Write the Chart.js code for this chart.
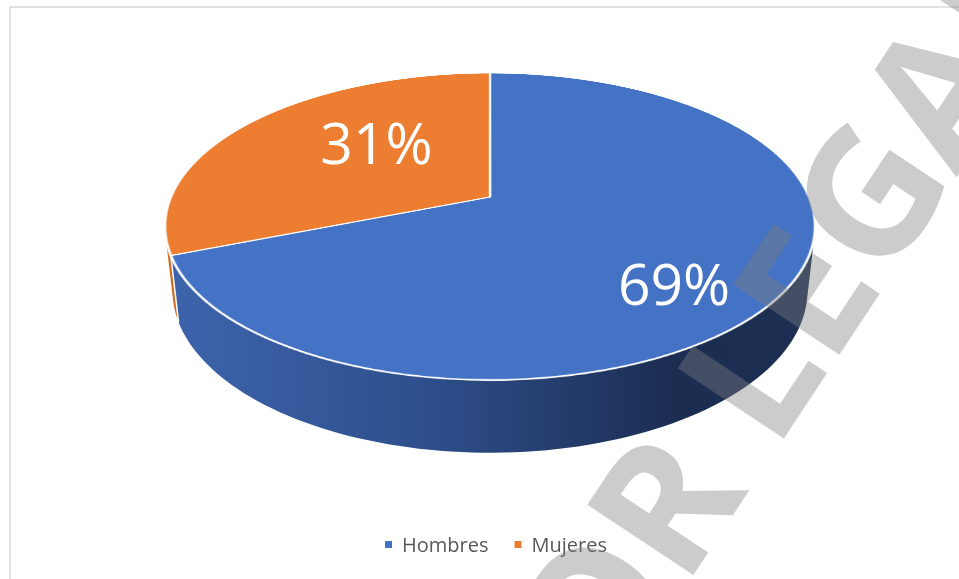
<!DOCTYPE html>
<html>
<head>
<meta charset="utf-8">
<script src="https://cdn.jsdelivr.net/npm/chart.js@4.4.1/dist/chart.umd.min.js"></script>
<style>
html,body{margin:0;padding:0;background:#fff;}
#stage{position:relative;width:959px;height:579px;overflow:hidden;background:#fff;}
#stage canvas.flat{position:absolute;left:0;top:0;}
#topFace{position:absolute;left:0;top:0;width:660px;height:660px;}
</style>
</head>
<body>
<div id="stage">
  <canvas id="walls" class="flat" width="959" height="579"></canvas>
  <div id="topFace"><canvas id="pie" width="660" height="660"></canvas></div>
  <canvas id="marks" class="flat" width="959" height="579"></canvas>
</div>
<script>
// ── data ──────────────────────────────────────────────
const categories=['Hombres','Mujeres'];
const shares=[69,31];

// ── 3D view (Excel style tilted pie with perspective) ──
const VIEW={cx:490,cy:197,r:319,tilt:62.4,dist:1471,depth:73};
const COS=Math.cos(VIEW.tilt*Math.PI/180), SIN=Math.sin(VIEW.tilt*Math.PI/180);
const WALL=[['#3d64ac','#2e4f8c','#1c2d52','#1d2e53'],['#d06a25','#a85419','#6e3510','#6e3510']];
const LABEL_TURN=11.5*Math.PI/180;

// same maths as the css perspective()+rotateX() on the top face
function project(X,Y,Z){
  const yr=Y*COS-Z*SIN, zr=Y*SIN+Z*COS;
  const s=VIEW.dist/(VIEW.dist-zr);
  return {x:VIEW.cx+X*s,y:VIEW.cy+yr*s};
}

function placeTopFace(chart){
  const arc=chart.getDatasetMeta(0).data[0];
  const k=VIEW.r/arc.outerRadius;
  const box=document.getElementById('topFace');
  box.style.left=(VIEW.cx-arc.x)+'px';
  box.style.top=(VIEW.cy-arc.y)+'px';
  box.style.transformOrigin=arc.x+'px '+arc.y+'px';
  box.style.transform=`perspective(${VIEW.dist}px) rotateX(${VIEW.tilt}deg) scale(${k})`;
}

function drawWalls(chart){
  const ctx=document.getElementById('walls').getContext('2d');
  ctx.clearRect(0,0,959,579);
  // chart frame
  ctx.strokeStyle='#d9d9d9';ctx.lineWidth=1.5;
  ctx.beginPath();ctx.moveTo(10,579);ctx.lineTo(10,7);ctx.lineTo(959,7);ctx.stroke();

  const R=VIEW.r;
  const tMin=Math.asin(R/(VIEW.dist*SIN)), tMax=Math.PI-tMin;
  const xl=project(R*Math.cos(tMax),R*Math.sin(tMax),0).x;
  const xr=project(R*Math.cos(tMin),R*Math.sin(tMin),0).x;
  const arcs=chart.getDatasetMeta(0).data;
  arcs.forEach((arc,i)=>{
    const a=Math.max(arc.startAngle,tMin), b=Math.min(arc.endAngle,tMax);
    if(b<=a) return;
    const g=ctx.createLinearGradient(xl,0,xr,0);
    const st=WALL[i%WALL.length];
    g.addColorStop(0,st[0]);g.addColorStop(0.4,st[1]);g.addColorStop(0.78,st[2]);g.addColorStop(1,st[3]);
    ctx.fillStyle=g;
    ctx.beginPath();
    const n=90;
    for(let j=0;j<=n;j++){
      const t=a+(b-a)*j/n, p=project(R*Math.cos(t),R*Math.sin(t),0);
      j?ctx.lineTo(p.x,p.y):ctx.moveTo(p.x,p.y);
    }
    for(let j=n;j>=0;j--){
      const t=a+(b-a)*j/n, p=project(R*Math.cos(t),R*Math.sin(t),-VIEW.depth);
      ctx.lineTo(p.x,p.y);
    }
    ctx.closePath();ctx.fill();
  });
  // white seam where the slices meet on the wall
  arcs.forEach(arc=>{
    const t=arc.endAngle;
    if(t<=tMin||t>=tMax) return;
    const p1=project(R*Math.cos(t),R*Math.sin(t),0), p2=project(R*Math.cos(t),R*Math.sin(t),-VIEW.depth);
    ctx.strokeStyle='#ffffff';ctx.lineWidth=1.5;
    ctx.beginPath();ctx.moveTo(p1.x,p1.y);ctx.lineTo(p2.x,p2.y);ctx.stroke();
  });
}

function drawMarks(chart){
  const ctx=document.getElementById('marks').getContext('2d');
  ctx.clearRect(0,0,959,579);
  const meta=chart.getDatasetMeta(0);
  const total=shares.reduce((a,b)=>a+b,0);

  // percentage labels
  ctx.fillStyle='#ffffff';ctx.font="57px 'Open Sans'";ctx.textAlign='center';ctx.textBaseline='alphabetic';
  meta.data.forEach((arc,i)=>{
    const frac=shares[i]/total;
    const t=(arc.startAngle+arc.endAngle)/2+LABEL_TURN;
    const f=0.39+0.51*frac;
    const p=project(VIEW.r*f*Math.cos(t),VIEW.r*f*Math.sin(t),0);
    ctx.fillText(Math.round(frac*100)+'%',p.x,p.y+20.5);
  });

  // legend
  ctx.font="20px 'Open Sans'";ctx.textAlign='left';
  const colors=chart.data.datasets[0].backgroundColor;
  const widths=categories.map(c=>ctx.measureText(c).width);
  const box=7, gap=10, itemGap=26;
  const totalW=widths.reduce((a,w)=>a+box+gap+w,0)+itemGap*(categories.length-1);
  let x=496-totalW/2;
  categories.forEach((c,i)=>{
    ctx.fillStyle=colors[i];ctx.fillRect(x,541,box,box);
    ctx.fillStyle='#595959';ctx.fillText(c,x+box+gap,551.5);
    x+=box+gap+widths[i]+itemGap;
  });

  // page watermark, placed by the centre of its "G"
  const wm='ASESOR LEGAL', size=178;
  ctx.save();
  ctx.font=`bold ${size}px 'Open Sans'`;
  const pre=ctx.measureText('ASESOR LE').width, gW=ctx.measureText('G').width;
  ctx.translate(868,196);ctx.rotate(-56.5*Math.PI/180);
  ctx.fillStyle='rgba(128,128,128,0.4)';ctx.textAlign='left';
  ctx.fillText(wm,-(pre+gW/2),size*0.714/2);
  ctx.restore();
}

const view3d={
  id:'view3d',
  afterDraw(chart){
    placeTopFace(chart);
    drawWalls(chart);
    drawMarks(chart);
  }
};

new Chart(document.getElementById('pie'),{
  type:'pie',
  data:{labels:categories,datasets:[{data:shares,backgroundColor:['#4472C4','#ED7D31'],borderColor:'#ffffff',borderWidth:2.4}]},
  options:{responsive:false,devicePixelRatio:2,animation:false,events:[],
    layout:{padding:10},
    plugins:{legend:{display:false},tooltip:{enabled:false}}},
  plugins:[view3d]
});
</script>
</body>
</html>
